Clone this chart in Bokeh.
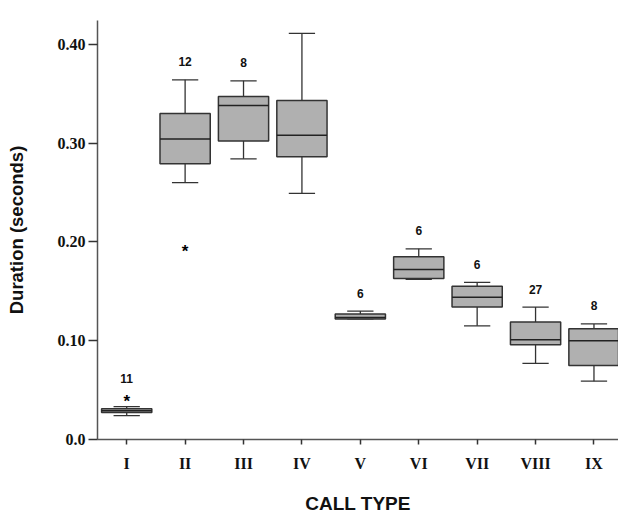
from bokeh.plotting import figure
from bokeh.models import ColumnDataSource, FixedTicker, CustomJSTickFormatter, Range1d
from bokeh.core.properties import value
from bokeh.transform import dodge
from bokeh.embed import file_html
from bokeh.resources import INLINE

categories = ["I", "II", "III", "IV", "V", "VI", "VII", "VIII", "IX"]
whisker_lo = [0.0242, 0.260, 0.284, 0.249, 0.122, 0.162, 0.115, 0.077, 0.059]
q1 = [0.0273, 0.279, 0.302, 0.286, 0.122, 0.163, 0.134, 0.096, 0.075]
median = [0.0290, 0.304, 0.338, 0.308, 0.1235, 0.172, 0.144, 0.101, 0.100]
q3 = [0.0310, 0.330, 0.347, 0.343, 0.127, 0.185, 0.155, 0.119, 0.112]
whisker_hi = [0.0333, 0.364, 0.363, 0.411, 0.130, 0.193, 0.159, 0.134, 0.117]
counts = ["11", "12", "8", "7", "6", "6", "6", "27", "8"]
outlier_cat = ["I", "II"]
outlier_val = [0.0434, 0.195]
y_ticks = [0.0, 0.1, 0.2, 0.3, 0.4]

BOX_W = 0.86
CAP_W = 0.45

xpos = [i + 0.5 for i in range(len(categories))]
label_y = []
for i, c in enumerate(categories):
    top = whisker_hi[i]
    for oc, ov in zip(outlier_cat, outlier_val):
        if oc == c and ov > top:
            top = ov
    label_y.append(top)

src = ColumnDataSource(dict(x=xpos, lo=whisker_lo, q1=q1, med=median, q3=q3,
                            hi=whisker_hi, n=counts, ly=label_y))
osrc = ColumnDataSource(dict(x=[categories.index(c) + 0.5 for c in outlier_cat],
                             y=outlier_val, s=["*"] * len(outlier_val)))

p = figure(width=618, height=516, output_backend="svg", toolbar_location=None,
           x_range=Range1d(0, 8.92), y_range=Range1d(0, 0.424),
           min_border_left=97, min_border_top=20, min_border_right=0,
           min_border_bottom=76)
p.outline_line_color = None
p.grid.grid_line_color = None
p.background_fill_color = "white"

dark = "#333333"
lw = 1.3
# whiskers
p.segment(x0="x", y0="q3", x1="x", y1="hi", source=src, line_color=dark, line_width=lw)
p.segment(x0="x", y0="q1", x1="x", y1="lo", source=src, line_color=dark, line_width=lw)
p.segment(x0=dodge("x", -CAP_W / 2), x1=dodge("x", CAP_W / 2), y0="hi", y1="hi",
          source=src, line_color=dark, line_width=lw)
p.segment(x0=dodge("x", -CAP_W / 2), x1=dodge("x", CAP_W / 2), y0="lo", y1="lo",
          source=src, line_color=dark, line_width=lw)
# boxes
p.vbar(x="x", bottom="q1", top="q3", width=BOX_W, source=src,
       fill_color="#b0b0b0", line_color=dark, line_width=1.5)
p.segment(x0=dodge("x", -BOX_W / 2), x1=dodge("x", BOX_W / 2), y0="med", y1="med",
          source=src, line_color="#222222", line_width=1.5)
# outliers
p.text(x="x", y="y", text="s", source=osrc, text_align="center",
       text_baseline="middle", y_offset=5, text_font=value("Liberation Sans"),
       text_font_style="bold", text_font_size="17px", text_color="black")
# counts
p.text(x="x", y="ly", text="n", source=src, text_align="center",
       text_baseline="middle", y_offset=-18, text_font=value("Liberation Sans"),
       text_font_style="bold", text_font_size="12px", text_color="#111111")

# axes
p.xaxis.ticker = FixedTicker(ticks=xpos)
p.xaxis.formatter = CustomJSTickFormatter(args=dict(labels=categories),
                                          code="return labels[Math.round(tick - 0.5)];")
p.xaxis.major_tick_out = 5
p.xaxis.major_tick_in = 0
p.xaxis.minor_tick_line_color = None
p.xaxis.major_label_standoff = 10
p.xaxis.major_label_text_font = "Liberation Serif"
p.xaxis.major_label_text_font_style = "bold"
p.xaxis.major_label_text_font_size = "16px"
p.xaxis.major_label_text_color = "#111111"
p.xaxis.axis_label = "CALL TYPE"
p.xaxis.axis_label_text_font = "Liberation Sans"
p.xaxis.axis_label_text_font_style = "bold"
p.xaxis.axis_label_text_font_size = "19px"
p.xaxis.axis_label_text_color = "#111111"
p.xaxis.axis_label_standoff = 18

p.yaxis.ticker = FixedTicker(ticks=y_ticks)
p.yaxis.formatter = CustomJSTickFormatter(
    code="return tick < 1e-9 ? '0.0' : tick.toFixed(2);")
p.yaxis.major_tick_out = 9
p.yaxis.major_tick_in = 0
p.yaxis.minor_tick_line_color = None
p.yaxis.major_label_standoff = 3
p.yaxis.major_label_text_font = "Liberation Serif"
p.yaxis.major_label_text_font_style = "bold"
p.yaxis.major_label_text_font_size = "16px"
p.yaxis.major_label_text_color = "#111111"
p.yaxis.axis_label = "Duration (seconds)"
p.yaxis.axis_label_text_font = "Liberation Sans"
p.yaxis.axis_label_text_font_style = "bold"
p.yaxis.axis_label_text_font_size = "18.5px"
p.yaxis.axis_label_text_color = "#111111"
p.yaxis.axis_label_standoff = 28

for ax in (p.xaxis, p.yaxis):
    ax.axis_line_color = "#555555"
    ax.axis_line_width = 1.5
    ax.major_tick_line_color = "#333333"
    ax.major_tick_line_width = 1.5

open("out.html", "w").write(file_html(p, INLINE))
